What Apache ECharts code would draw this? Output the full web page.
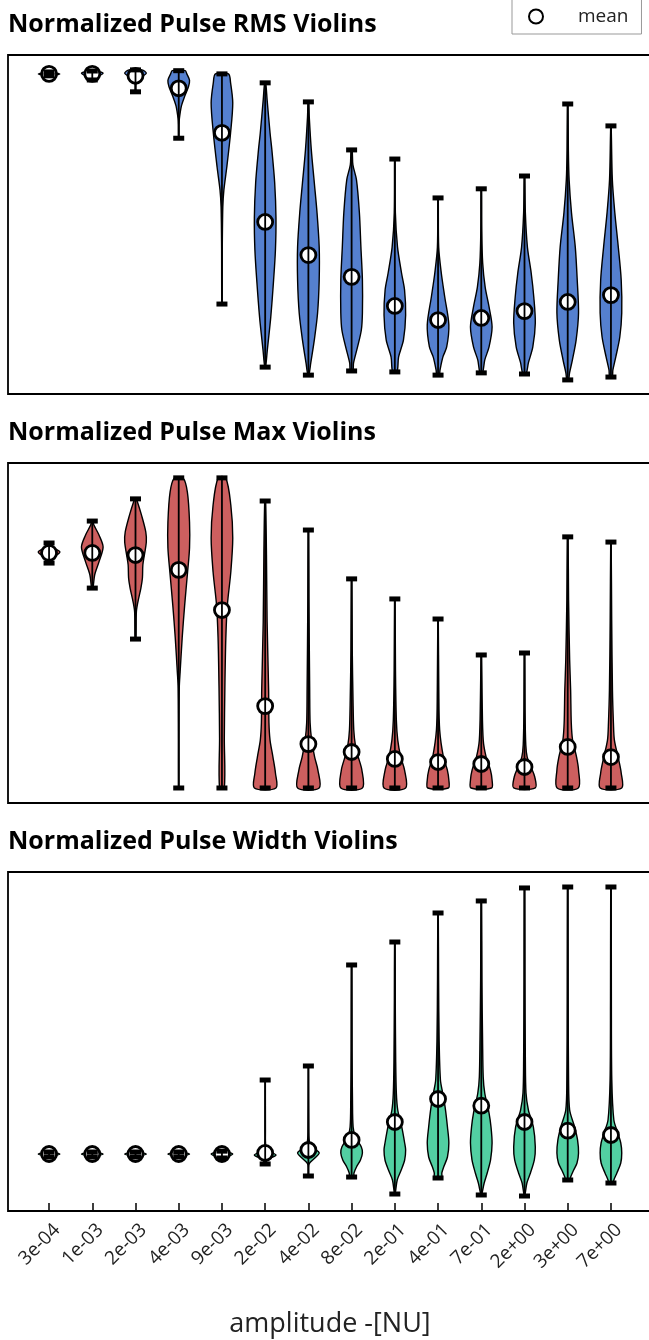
<!DOCTYPE html>
<html>
<head>
<meta charset="utf-8">
<script src="https://cdn.jsdelivr.net/npm/echarts@6/dist/echarts.min.js"></script>
<style>
  html, body { margin: 0; padding: 0; background: #fff; }
  #chart { width: 649px; height: 1340px; }
</style>
</head>
<body>
<div id="chart"></div>
<script>
// Amplitude bins shown along the shared x axis
const categories = ['3e-04', '1e-03', '2e-03', '4e-03', '9e-03', '2e-02', '4e-02',
                    '8e-02', '2e-01', '4e-01', '7e-01', '2e+00', '3e+00', '7e+00'];

// ---- Normalized pulse RMS ----
const rmsMin  = [0.994, 0.981, 0.944, 0.799, 0.281, 0.084, 0.059, 0.072, 0.069, 0.059, 0.066, 0.0625, 0.044, 0.053];
const rmsMax  = [1.006, 1.009, 1.0125, 1.010, 1.000, 0.972, 0.9125, 0.7625, 0.734, 0.6125, 0.641, 0.681, 0.906, 0.8375];
const rmsMean = [1.000, 1.000, 0.994, 0.955, 0.816, 0.5375, 0.434, 0.366, 0.275, 0.231, 0.2375, 0.259, 0.2875, 0.309];
// density outlines: [value, relative half-width]
const rmsShape = [
  [[0.994, 0.15], [1.0, 1.0], [1.006, 0.15]],
  [[0.981, 0.2], [0.99, 0.45], [1.002, 1.0], [1.009, 0.3]],
  [[0.944, 0.03], [0.96, 0.03], [0.975, 0.08], [0.99, 0.5], [1.002, 1.0], [1.0125, 0.6]],
  [[0.799, 0.02], [0.84, 0.03], [0.86, 0.06], [0.9, 0.25], [0.93, 0.55], [0.96, 0.9], [0.98, 1.0], [1.0, 0.75], [1.01, 0.6]],
  [[0.281, 0.02], [0.45, 0.03], [0.584, 0.08], [0.6375, 0.18], [0.709, 0.45], [0.816, 0.8], [0.909, 1.0], [0.972, 0.8], [1.0, 0.6]],
  [[0.084, 0.04], [0.1375, 0.2], [0.241, 0.52], [0.356, 0.78], [0.45, 0.95], [0.55, 1.0], [0.66, 0.88], [0.7625, 0.62], [0.816, 0.45], [0.919, 0.18], [0.972, 0.05]],
  [[0.059, 0.05], [0.097, 0.22], [0.169, 0.55], [0.253, 0.85], [0.356, 1.0], [0.459, 1.0], [0.566, 0.8], [0.659, 0.55], [0.7625, 0.27], [0.866, 0.08], [0.9125, 0.03]],
  [[0.072, 0.12], [0.097, 0.18], [0.147, 0.55], [0.2, 0.9], [0.253, 1.0], [0.356, 1.0], [0.459, 0.86], [0.566, 0.72], [0.669, 0.45], [0.716, 0.12], [0.7625, 0.05]],
  [[0.069, 0.2], [0.116, 0.35], [0.169, 0.8], [0.247, 1.0], [0.325, 0.9], [0.378, 0.62], [0.459, 0.25], [0.566, 0.05], [0.734, 0.02]],
  [[0.059, 0.12], [0.075, 0.18], [0.116, 0.45], [0.147, 0.8], [0.216, 1.0], [0.303, 0.62], [0.378, 0.3], [0.459, 0.06], [0.6125, 0.02]],
  [[0.066, 0.12], [0.106, 0.32], [0.147, 0.72], [0.209, 1.0], [0.272, 0.72], [0.334, 0.36], [0.409, 0.13], [0.5125, 0.04], [0.641, 0.02]],
  [[0.0625, 0.15], [0.097, 0.36], [0.147, 0.77], [0.222, 1.0], [0.303, 0.86], [0.378, 0.62], [0.459, 0.27], [0.566, 0.08], [0.681, 0.02]],
  [[0.044, 0.08], [0.066, 0.17], [0.106, 0.43], [0.169, 0.78], [0.253, 1.0], [0.356, 0.88], [0.459, 0.7], [0.566, 0.35], [0.669, 0.13], [0.7625, 0.06], [0.906, 0.02]],
  [[0.053, 0.12], [0.075, 0.18], [0.116, 0.45], [0.178, 0.82], [0.253, 1.0], [0.356, 0.95], [0.459, 0.68], [0.566, 0.36], [0.669, 0.13], [0.8375, 0.02]]
];

// ---- Normalized pulse max ----
const maxMin  = [0.953, 0.847, 0.631, 0, 0, 0, 0, 0, 0, 0, 0, 0, 0, 0];
const maxMax  = [1.038, 1.131, 1.225, 1.314, 1.314, 1.216, 1.093, 0.886, 0.801, 0.716, 0.5636, 0.572, 1.064, 1.042];
const maxMean = [0.996, 0.996, 0.987, 0.924, 0.754, 0.347, 0.186, 0.1525, 0.123, 0.11, 0.1017, 0.089, 0.174, 0.131];
const maxShape = [
  [[0.953, 0.1], [0.975, 0.35], [1.0, 1.0], [1.02, 0.35], [1.038, 0.1]],
  [[0.847, 0.06], [0.9025, 0.22], [0.958, 0.62], [1.021, 1.0], [1.072, 0.62], [1.114, 0.15], [1.131, 0.05]],
  [[0.631, 0.04], [0.746, 0.08], [0.788, 0.22], [0.847, 0.5], [0.89, 0.64], [0.945, 0.68], [0.987, 0.82], [1.042, 1.0], [1.085, 0.95], [1.157, 0.55], [1.212, 0.18], [1.225, 0.05]],
  [[0, 0.02], [0.203, 0.02], [0.424, 0.05], [0.4915, 0.13], [0.636, 0.32], [0.775, 0.55], [0.915, 0.82], [1.017, 1.0], [1.127, 1.0], [1.254, 0.8], [1.314, 0.4]],
  [[0, 0.22], [0.212, 0.22], [0.424, 0.27], [0.636, 0.36], [0.775, 0.5], [0.915, 0.82], [1.059, 1.0], [1.199, 0.82], [1.314, 0.35]],
  [[0, 1.0], [0.0636, 0.95], [0.131, 0.72], [0.203, 0.45], [0.275, 0.35], [0.415, 0.32], [0.703, 0.18], [0.987, 0.12], [1.216, 0.04]],
  [[0, 1.0], [0.076, 0.88], [0.131, 0.58], [0.203, 0.3], [0.275, 0.16], [0.415, 0.12], [0.797, 0.05], [1.093, 0.02]],
  [[0, 1.0], [0.076, 0.95], [0.131, 0.62], [0.182, 0.35], [0.246, 0.2], [0.373, 0.13], [0.585, 0.06], [0.886, 0.02]],
  [[0, 1.0], [0.076, 0.9], [0.131, 0.55], [0.203, 0.27], [0.288, 0.14], [0.5, 0.06], [0.801, 0.02]],
  [[0, 0.95], [0.034, 1.0], [0.076, 0.86], [0.131, 0.5], [0.246, 0.15], [0.415, 0.07], [0.716, 0.02]],
  [[0, 0.95], [0.034, 1.0], [0.076, 0.85], [0.131, 0.45], [0.203, 0.18], [0.373, 0.08], [0.5636, 0.02]],
  [[0, 1.0], [0.0466, 0.95], [0.089, 0.6], [0.131, 0.25], [0.182, 0.12], [0.33, 0.05], [0.572, 0.02]],
  [[0, 0.98], [0.076, 1.0], [0.131, 0.82], [0.203, 0.45], [0.275, 0.33], [0.415, 0.27], [0.542, 0.18], [0.797, 0.08], [1.064, 0.03]],
  [[0, 1.0], [0.0636, 0.95], [0.119, 0.72], [0.203, 0.32], [0.275, 0.23], [0.415, 0.14], [0.712, 0.07], [1.042, 0.02]]
];

// ---- Normalized pulse width ----
const widMin  = [0.947, 0.947, 0.947, 0.947, 0.93, 0.825, 0.614, 0.596, 0.298, 0.579, 0.281, 0.263, 0.544, 0.491];
const widMax  = [1.035, 1.035, 1.035, 1.035, 1.05, 2.298, 2.544, 4.316, 4.719, 5.228, 5.439, 5.667, 5.684, 5.684];
const widMean = [1.0, 1.0, 1.0, 1.0, 1.0, 1.018, 1.07, 1.246, 1.561, 1.965, 1.847, 1.561, 1.409, 1.333];
const widShape = [
  [[0.947, 0.08], [1.0, 1.0], [1.035, 0.08]],
  [[0.947, 0.08], [1.0, 1.0], [1.035, 0.08]],
  [[0.947, 0.08], [1.0, 1.0], [1.035, 0.08]],
  [[0.947, 0.08], [1.0, 1.0], [1.035, 0.08]],
  [[0.93, 0.08], [1.0, 1.0], [1.05, 0.08]],
  [[0.825, 0.05], [0.9, 0.2], [0.98, 1.0], [1.05, 0.3], [1.15, 0.05], [1.4, 0.02], [2.298, 0.01]],
  [[0.614, 0.02], [0.8, 0.03], [0.85, 0.15], [0.93, 0.6], [1.02, 1.0], [1.1, 0.5], [1.2, 0.12], [1.4, 0.04], [2.544, 0.01]],
  [[0.596, 0.18], [0.667, 0.22], [0.772, 0.45], [0.895, 0.82], [1.018, 1.0], [1.123, 0.9], [1.298, 0.36], [1.474, 0.14], [1.947, 0.08], [2.825, 0.04], [4.316, 0.02]],
  [[0.298, 0.03], [0.544, 0.22], [0.719, 0.59], [0.895, 0.91], [1.07, 1.0], [1.193, 0.91], [1.474, 0.64], [1.772, 0.27], [2.07, 0.14], [2.649, 0.08], [3.702, 0.04], [4.719, 0.02]],
  [[0.579, 0.33], [0.667, 0.35], [0.772, 0.52], [0.947, 0.87], [1.193, 1.0], [1.474, 0.87], [1.825, 0.65], [2.07, 0.43], [2.298, 0.22], [3.0, 0.1], [4.053, 0.05], [5.228, 0.02]],
  [[0.281, 0.03], [0.491, 0.27], [0.667, 0.55], [0.895, 0.86], [1.193, 1.0], [1.474, 0.9], [1.719, 0.72], [2.07, 0.32], [2.351, 0.18], [3.0, 0.12], [4.053, 0.06], [5.439, 0.02]],
  [[0.263, 0.03], [0.491, 0.22], [0.667, 0.55], [0.895, 0.91], [1.123, 1.0], [1.474, 0.82], [1.772, 0.36], [2.07, 0.14], [2.649, 0.08], [4.053, 0.04], [5.667, 0.02]],
  [[0.544, 0.22], [0.596, 0.27], [0.719, 0.55], [0.842, 0.86], [1.018, 1.0], [1.246, 0.91], [1.474, 0.64], [1.772, 0.18], [2.298, 0.08], [3.702, 0.04], [5.684, 0.02]],
  [[0.491, 0.22], [0.544, 0.27], [0.667, 0.55], [0.842, 0.91], [1.018, 1.0], [1.193, 0.91], [1.368, 0.64], [1.596, 0.27], [2.298, 0.08], [3.702, 0.04], [5.684, 0.02]]
];

const panels = [
  { title: 'Normalized Pulse RMS Violins',   min: rmsMin, max: rmsMax, mean: rmsMean, shape: rmsShape, color: '#5580cf', yMin: 0, yMax: 1.059, top: 55, height: 339 },
  { title: 'Normalized Pulse Max Violins',   min: maxMin, max: maxMax, mean: maxMean, shape: maxShape, color: '#cd5f5f', yMin: -0.0636, yMax: 1.377, top: 463, height: 340 },
  { title: 'Normalized Pulse Width Violins', min: widMin, max: widMax, mean: widMean, shape: widShape, color: '#52cfa2', yMin: 0, yMax: 5.947, top: 872, height: 339 }
];

const HALF = 0.25;          // maximum half-width of a violin, in x units
const LABEL_SHIFT = 0.185;  // rotated tick labels sit a little right of their tick
const FONT = "'Open Sans', 'DejaVu Sans', sans-serif";
const positions = categories.map((c, i) => i + 1);

// filled density body of each violin
function bodyRenderer(p) {
  return function (params, api) {
    const x = api.value(0);
    const outline = p.shape[x - 1];
    const right = outline.map(q => api.coord([x + q[1] * HALF, q[0]]));
    const left = outline.slice().reverse().map(q => api.coord([x - q[1] * HALF, q[0]]));
    return {
      type: 'polygon',
      shape: { points: right.concat(left), smooth: 0.3 },
      style: { fill: p.color, stroke: '#000', lineWidth: 1.4 }
    };
  };
}

// extrema bar with end caps, drawn over the mean markers
function rangeRenderer(p) {
  return function (params, api) {
    const x = api.value(0);
    const top = api.coord([x, p.max[x - 1]]);
    const bot = api.coord([x, p.min[x - 1]]);
    return {
      type: 'group',
      children: [
        { type: 'line', shape: { x1: top[0], y1: top[1], x2: bot[0], y2: bot[1] },
          style: { stroke: '#000', lineWidth: 1.8 } },
        { type: 'rect', shape: { x: top[0] - 5.5, y: top[1] - 2.5, width: 11, height: 5 },
          style: { fill: '#000' } },
        { type: 'rect', shape: { x: bot[0] - 5.5, y: bot[1] - 2.5, width: 11, height: 5 },
          style: { fill: '#000' } }
      ]
    };
  };
}

const chart = echarts.init(document.getElementById('chart'), null, { renderer: 'canvas' });

const option = {
  animation: false,
  backgroundColor: '#fff',
  title: panels.map(p => ({
    text: p.title,
    left: 3,
    top: p.top - 48,
    textStyle: { fontFamily: FONT, fontSize: 25, fontWeight: 'bold', color: '#000' }
  })),
  legend: {
    data: ['mean'],
    left: 512,
    top: -1,
    padding: [8, 13, 8, 16],
    itemWidth: 14,
    itemHeight: 14,
    borderColor: '#999',
    borderWidth: 1,
    backgroundColor: '#fff',
    textStyle: { fontFamily: FONT, fontSize: 19, color: '#222', padding: [0, 0, 0, 30] }
  },
  grid: panels.map(p => ({
    left: 8, width: 644, top: p.top, height: p.height,
    outerBoundsMode: 'none', containLabel: false,
    show: true, borderColor: '#000', borderWidth: 1.8, backgroundColor: 'transparent'
  })),
  xAxis: panels.map((p, k) => ({
    type: 'value', gridIndex: k, min: 0.05, max: 14.95,
    splitLine: { show: false },
    axisLine: { show: false },
    axisTick: { show: k === 2, inside: true, length: 8, customValues: positions,
                lineStyle: { color: '#000', width: 1.5 } },
    axisLabel: { show: k === 2, customValues: positions.map(v => v + LABEL_SHIFT),
                 rotate: 45, margin: 16,
                 fontFamily: FONT, fontSize: 19, color: '#222',
                 formatter: v => categories[Math.round(v) - 1] },
    name: k === 2 ? 'amplitude -[NU]' : '',
    nameLocation: 'middle',
    nameGap: 100,
    nameTextStyle: { fontFamily: FONT, fontSize: 27, color: '#222' }
  })),
  yAxis: panels.map((p, k) => ({
    type: 'value', gridIndex: k, min: p.yMin, max: p.yMax,
    axisLine: { show: false }, axisTick: { show: false },
    axisLabel: { show: false }, splitLine: { show: false }
  })),
  series: []
};

panels.forEach((p, k) => {
  const pts = positions.map((x, i) => [x, p.mean[i]]);
  option.series.push({
    type: 'custom', name: p.title + ' body',
    xAxisIndex: k, yAxisIndex: k,
    renderItem: bodyRenderer(p),
    encode: { x: 0, y: 1 }, data: pts, z: 2, silent: true
  });
  option.series.push({
    type: 'scatter', name: 'mean',
    xAxisIndex: k, yAxisIndex: k, data: pts,
    symbol: 'circle', symbolSize: 15,
    itemStyle: { color: '#fff', borderColor: '#000', borderWidth: 2.8, opacity: 1 },
    z: 3
  });
  option.series.push({
    type: 'custom', name: p.title + ' range',
    xAxisIndex: k, yAxisIndex: k,
    renderItem: rangeRenderer(p),
    encode: { x: 0, y: 1 }, data: pts, z: 4, silent: true
  });
});

chart.setOption(option);
</script>
</body>
</html>
